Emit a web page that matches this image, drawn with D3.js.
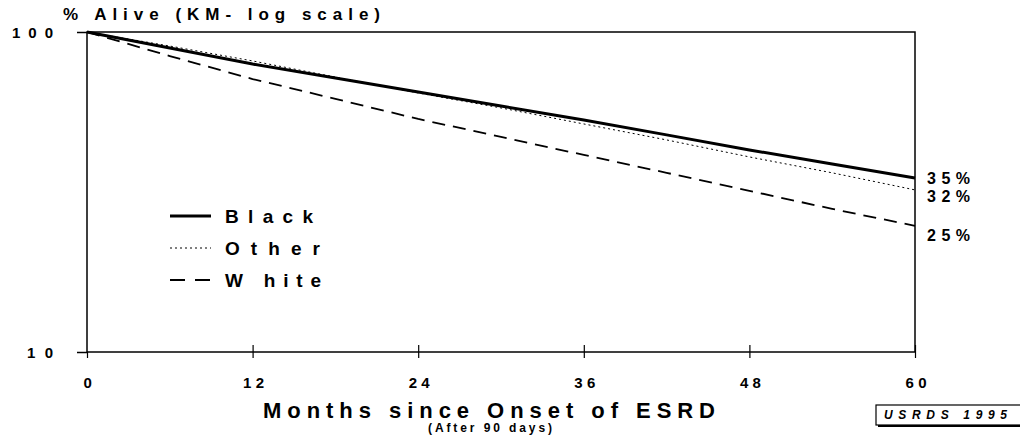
<!DOCTYPE html>
<html><head><meta charset="utf-8">
<script src="https://cdn.jsdelivr.net/npm/d3@7"></script>
<style>
body{margin:0;background:#fff;}
text{font-family:"Liberation Sans",Arial,sans-serif;font-weight:bold;fill:#000;}
</style></head>
<body><svg id="c" width="1020" height="438"></svg>
<script>
const months = [0, 6, 12, 18, 24, 30, 36, 42, 48, 54, 60];
const blackPct = [100, 89.1, 79.4, 71.8, 64.9, 58.7, 53.1, 47.7, 42.8, 38.7, 35.0];
const otherPct = [100, 90.4, 81.2, 72.3, 64.5, 57.9, 51.6, 46.0, 40.7, 36.3, 32.1];
const whitePct = [100, 84.1, 71.3, 61.8, 53.5, 47.0, 41.3, 36.3, 31.9, 28.0, 24.8];
const xTicks = [0, 12, 24, 36, 48, 60];
const yTicks = [10, 100];
const seriesNames = ["Black", "Other", "W hite"];
const endLabels = ["35%", "32%", "25%"];

const svg = d3.select("#c");
const x = d3.scaleLinear().domain([0, 60]).range([87, 915]);
const y = d3.scaleLog().domain([10, 100]).range([352, 32]);

const styles = [
  {w: 3, dash: null, leg: null},
  {w: 1, dash: "2,3", leg: "2,3"},
  {w: 1.8, dash: "13,8", leg: "15,10"}
];
const data = [blackPct, otherPct, whitePct];

// frame
svg.append("rect").attr("x", x(0)).attr("y", y(100)).attr("width", x(60) - x(0)).attr("height", y(10) - y(100))
  .attr("fill", "none").attr("stroke", "#000").attr("stroke-width", 1.5);

// x axis
const xAxis = d3.axisBottom(x).tickValues(xTicks).tickSize(6).tickFormat("");
const gx = svg.append("g").attr("transform", `translate(0,${y(10)})`).call(xAxis);
gx.select(".domain").remove();
gx.selectAll(".tick line").attr("y1", -7).attr("stroke-width", 1.2);
gx.selectAll(".tick").filter(d => d === 0).select("line").attr("y1", 0);
xTicks.forEach(t => {
  const w = String(t).length === 1 ? 9 : 21;
  svg.append("text").attr("x", x(t) - w / 2 + 1).attr("y", 388)
    .attr("font-size", 15).attr("textLength", w).attr("lengthAdjust", "spacing").text(t);
});

// y axis
const yAxis = d3.axisLeft(y).tickValues(yTicks).tickSize(10).tickFormat("");
const gy = svg.append("g").attr("transform", `translate(${x(0)},0)`).call(yAxis);
gy.select(".domain").remove();
gy.selectAll(".tick line").attr("stroke-width", 1.5);
yTicks.forEach(t => {
  const w = String(t).length === 3 ? 41 : 26;
  svg.append("text").attr("x", 53 - w).attr("y", y(t) + 6)
    .attr("font-size", 15).attr("textLength", w).attr("lengthAdjust", "spacing").text(t);
});

// title
svg.append("text").attr("x", 63).attr("y", 20).attr("font-size", 17)
  .attr("textLength", 317).attr("lengthAdjust", "spacing").text("% Alive (KM- log scale)");

// lines
const line = d3.line().x((d, i) => x(months[i])).y(d => y(d));
data.forEach((arr, k) => {
  svg.append("path").datum(arr).attr("d", line).attr("fill", "none").attr("stroke", "#000")
    .attr("stroke-width", styles[k].w).attr("stroke-dasharray", styles[k].dash);
});

// end labels
const endY = [184, 202, 241];
endLabels.forEach((l, k) => {
  svg.append("text").attr("x", 927).attr("y", endY[k]).attr("font-size", 16)
    .attr("textLength", 43).attr("lengthAdjust", "spacing").text(l);
});

// legend
const legY = [216, 248, 280];
const legW = [88, 95, 96];
seriesNames.forEach((n, k) => {
  svg.append("line").attr("x1", 170).attr("x2", 211).attr("y1", legY[k]).attr("y2", legY[k])
    .attr("stroke", "#000").attr("stroke-width", k === 2 ? 2 : styles[k].w).attr("stroke-dasharray", styles[k].leg);
  svg.append("text").attr("x", 225).attr("y", legY[k] + 7).attr("font-size", 19)
    .attr("textLength", legW[k]).attr("lengthAdjust", "spacing").text(n);
});

// axis titles
svg.append("text").attr("x", 263).attr("y", 418).attr("font-size", 22)
  .attr("textLength", 452).attr("lengthAdjust", "spacing").text("Months since Onset of ESRD");
svg.append("text").attr("x", 428).attr("y", 432).attr("font-size", 12)
  .attr("textLength", 124).attr("lengthAdjust", "spacing").text("(After 90 days)");

// USRDS box
svg.append("rect").attr("x", 876).attr("y", 405).attr("width", 150).attr("height", 20)
  .attr("fill", "#fff").attr("stroke", "#000").attr("stroke-width", 1.2);
svg.append("line").attr("x1", 878).attr("x2", 1020).attr("y1", 426).attr("y2", 426).attr("stroke", "#000").attr("stroke-width", 2);
svg.append("text").attr("x", 884).attr("y", 419).attr("font-size", 12).attr("font-style", "italic")
  .attr("textLength", 123).attr("lengthAdjust", "spacing").text("USRDS 1995");
</script></body></html>
